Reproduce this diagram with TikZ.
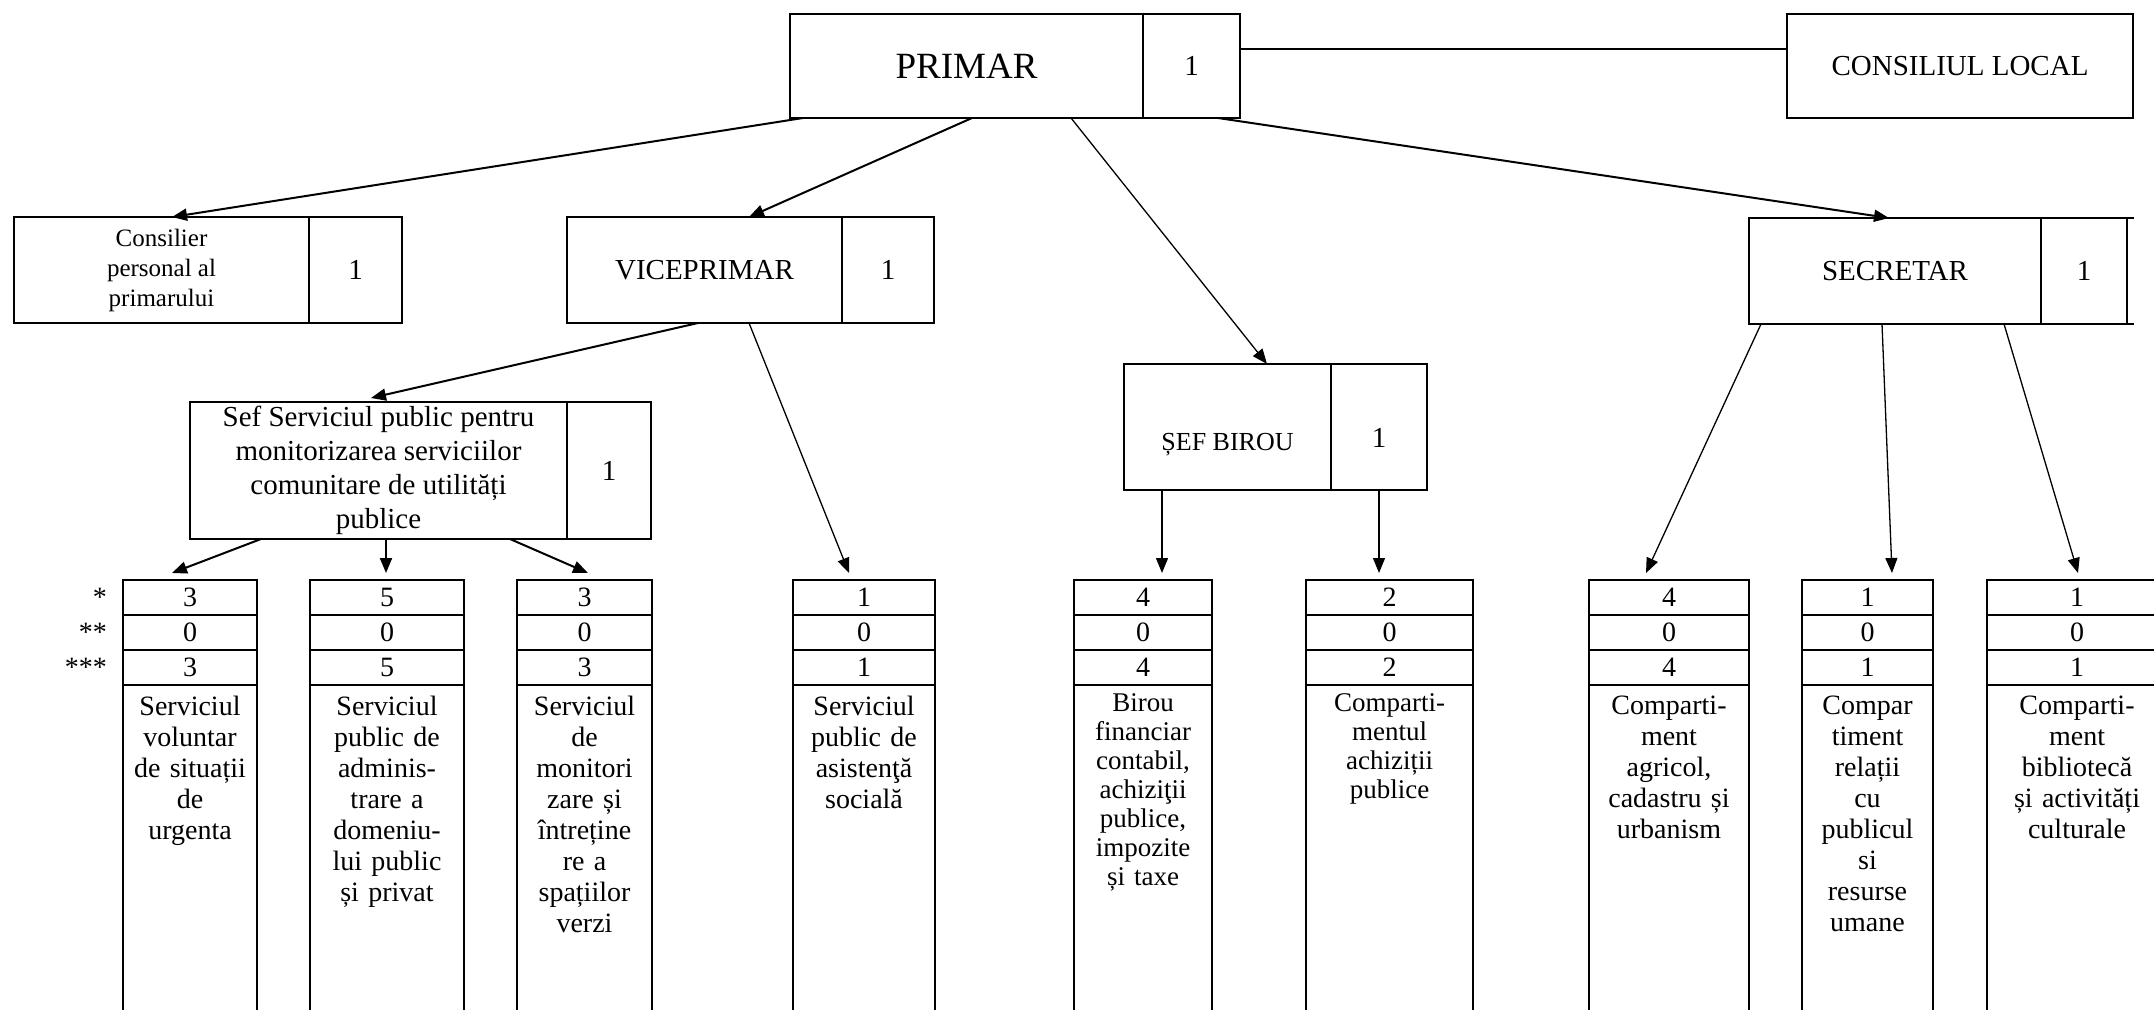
\documentclass[tikz,border=0pt]{standalone}
\usepackage{fontspec}
\setmainfont{Liberation Serif}
\usetikzlibrary{positioning,arrows.meta}

\begin{document}
\begin{tikzpicture}[x=1pt,y=-1pt,
box/.style={draw, line width=2pt, outer sep=0pt, anchor=north west, align=center, inner sep=2pt, minimum height=104pt, font=\fontsize{29}{34}\selectfont},
cell/.style={draw, line width=1.8pt, outer sep=0pt, minimum height=35pt, inner sep=0pt, font=\fontsize{28}{31}\selectfont},
coltxt/.style={anchor=north, align=center, inner xsep=0pt, inner ysep=11pt, font=\fontsize{28}{31}\selectfont},
coltxtsm/.style={coltxt, inner ysep=8pt, font=\fontsize{27}{29}\selectfont},
star/.style={inner sep=2pt, font=\fontsize{28}{31}\selectfont},
arr/.style={-{Triangle[length=15pt,width=12pt]}, line width=2pt},
arrthin/.style={arr, line width=1.3pt}
]
\useasboundingbox (0,0) rectangle (2154,1009);

% conducere
\node[box, minimum width=353pt, font=\fontsize{37}{42}\selectfont] (primar) at (790,14) {PRIMAR};
\node[box, minimum width=97pt, right=0pt of primar] (primar-n) {1};
\node[box, minimum width=346pt] (consiliu) at (1787,14) {CONSILIUL LOCAL};
\draw[line width=2pt] ([yshift=17pt]primar-n.east) -- ([yshift=17pt]consiliu.west);

\node[box, minimum width=295pt, minimum height=106pt, font=\fontsize{25}{30}\selectfont] (consilier) at (14,217) {Consilier\\personal al\\primarului};
\node[box, minimum width=93pt, minimum height=106pt, right=0pt of consilier] (consilier-n) {1};
\node[box, minimum width=275pt, minimum height=106pt] (vice) at (567,217) {VICEPRIMAR};
\node[box, minimum width=92pt, minimum height=106pt, right=0pt of vice] (vice-n) {1};
\node[box, minimum width=292pt, minimum height=106pt] (secretar) at (1749,218) {SECRETAR};
\node[box, minimum width=86pt, minimum height=106pt, right=0pt of secretar] (secretar-n) {1};
\draw[line width=2pt] (secretar-n.north east) -- ++(7,0) (secretar-n.south east) -- ++(7,0);

\node[box, minimum width=377pt, minimum height=137pt] (sefserv) at (190,402) {Sef Serviciul public pentru\\monitorizarea serviciilor\\comunitare de utilități\\publice};
\node[box, minimum width=84pt, minimum height=137pt, right=0pt of sefserv] (sefserv-n) {1};
\node[box, minimum width=207pt, minimum height=126pt, font=\fontsize{26}{30}\selectfont, text height=52pt, text depth=5pt] (sefbirou) at (1124,364) {ȘEF BIROU};
\node[box, minimum width=96pt, minimum height=126pt, text height=40pt, text depth=0pt, right=0pt of sefbirou] (sefbirou-n) {1};

% compartimente
\foreach \nm/\x/\w/\a/\b/\c/\st/\txt in {
  c1/123/134/3/0/3/coltxt/{Serviciul\\voluntar\\de situații\\de\\urgenta},
  c2/310/154/5/0/5/coltxt/{Serviciul\\public de\\adminis-\\trare a\\domeniu-\\lui public\\și privat},
  c3/517/135/3/0/3/coltxt/{Serviciul\\de\\monitori\\zare și\\întreține\\re a\\spațiilor\\verzi},
  c4/793/142/1/0/1/coltxt/{Serviciul\\public de\\asistenţă\\socială},
  c5/1074/138/4/0/4/coltxtsm/{Birou\\financiar\\contabil,\\achiziţii\\publice,\\impozite\\și taxe},
  c6/1306/167/2/0/2/coltxtsm/{Comparti-\\mentul\\achiziții\\publice},
  c7/1589/160/4/0/4/coltxt/{Comparti-\\ment\\agricol,\\cadastru și\\urbanism},
  c8/1802/131/1/0/1/coltxt/{Compar\\timent\\relații\\cu\\publicul\\si\\resurse\\umane},
  c9/1987/180/1/0/1/coltxt/{Comparti-\\ment\\bibliotecă\\și activități\\culturale}}{
  \node[cell, minimum width=\w pt, anchor=north west] (\nm-a) at (\x,580) {\a};
  \node[cell, minimum width=\w pt, below=0pt of \nm-a] (\nm-b) {\b};
  \node[cell, minimum width=\w pt, below=0pt of \nm-b] (\nm-c) {\c};
  \draw[line width=1.8pt] (\nm-c.south west) rectangle ([yshift=-420pt]\nm-c.south east);
  \node[\st, text width=\w pt] (\nm-t) at (\nm-c.south) {\txt};
}

\node[star, left=14pt of c1-a] (s1) {*};
\node[star, left=14pt of c1-b] (s2) {**};
\node[star, left=14pt of c1-c] (s3) {***};

% legaturi
\draw[arr] ([xshift=13pt]primar.south west) -- ([xshift=158pt]consilier.north west);
\draw[arr] ([xshift=182pt]primar.south west) -- ([xshift=182pt]vice.north west);
\draw[arrthin] ([xshift=281pt]primar.south west) -- ([xshift=143pt]sefbirou.north west);
\draw[arr] ([xshift=75pt]primar-n.south west) -- ([xshift=140pt]secretar.north west);
\draw[arr] ([xshift=131pt]vice.south west) -- ([xshift=181pt,yshift=4pt]sefserv.north west);
\draw[arrthin] ([xshift=182pt]vice.south west) -- ([xshift=56pt,yshift=7pt]c4-a.north west);
\draw[arr] ([xshift=71pt]sefserv.south west) -- ([xshift=49pt,yshift=7pt]c1-a.north west);
\draw[arr] ([xshift=196pt]sefserv.south west) -- ([xshift=76pt,yshift=7pt]c2-a.north west);
\draw[arr] ([xshift=320pt]sefserv.south west) -- ([xshift=71pt,yshift=7pt]c3-a.north west);
\draw[arrthin] ([xshift=38pt]sefbirou.south west) -- ([xshift=88pt,yshift=7pt]c5-a.north west);
\draw[arrthin] ([xshift=48pt]sefbirou-n.south west) -- ([xshift=73pt,yshift=7pt]c6-a.north west);
\draw[arrthin] ([xshift=12pt]secretar.south west) -- ([xshift=57pt,yshift=7pt]c7-a.north west);
\draw[arrthin] ([xshift=133pt]secretar.south west) -- ([xshift=90pt,yshift=7pt]c8-a.north west);
\draw[arrthin] ([xshift=255pt]secretar.south west) -- ([xshift=91pt,yshift=7pt]c9-a.north west);
\end{tikzpicture}
\end{document}
